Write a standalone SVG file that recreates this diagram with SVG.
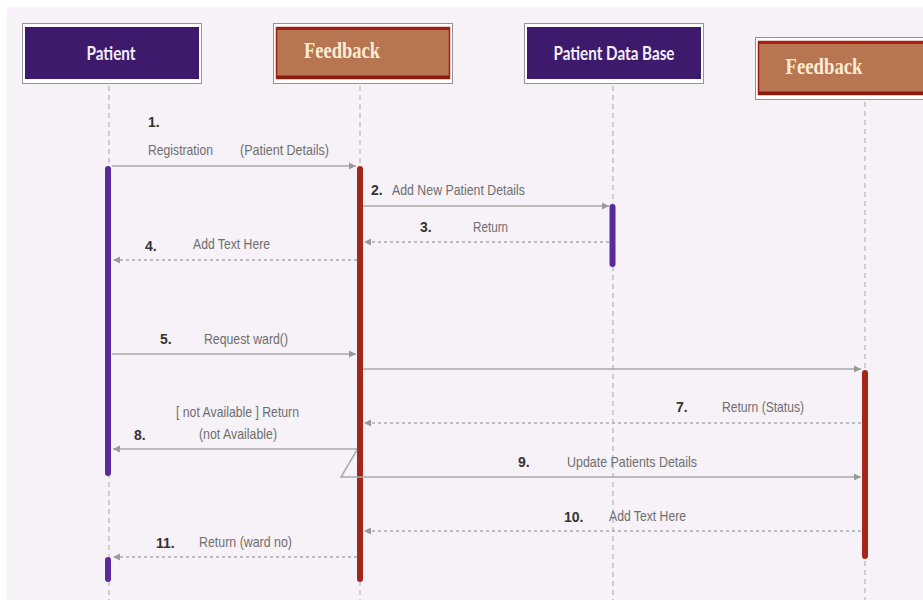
<svg xmlns="http://www.w3.org/2000/svg" width="923" height="600" viewBox="0 0 923 600">
<style>
.lbl{font-family:"Liberation Sans",Arial,sans-serif;font-size:15px;fill:#6e6e6e;}
.num{font-family:"Liberation Sans",Arial,sans-serif;font-size:14px;font-weight:bold;fill:#333;}
.pt{font-family:Lato,"Open Sans",sans-serif;font-size:18px;font-weight:bold;fill:#f4eefa;}
.fb{font-family:"Liberation Serif","Times New Roman",serif;font-size:24px;font-weight:bold;fill:#fbecd6;}
.life{stroke:#a8a8a8;stroke-width:1;stroke-dasharray:5,4;fill:none;}
.msg{stroke:#a9a9a9;stroke-width:1.5;fill:none;}
.ret{stroke:#a9a9a9;stroke-width:1.3;stroke-dasharray:3,3;fill:none;}
.barP{stroke:#5a2a9c;stroke-width:6;stroke-linecap:round;}
.barR{stroke:#a5271a;stroke-width:6;stroke-linecap:round;}
</style>
<defs>
<marker id="ah" markerWidth="8" markerHeight="8" refX="7" refY="4" orient="auto" markerUnits="userSpaceOnUse">
<path d="M0,0.5 L7,4 L0,7.5 Z" fill="#9a9a9a"/>
</marker>
</defs>
<rect width="923" height="600" fill="#ffffff"/>
<rect x="7" y="7" width="916" height="593" fill="#f6f2f8"/>

<g id="lifelines">
<line class="life" x1="109" y1="86" x2="109" y2="600"/>
<line class="life" x1="360" y1="86" x2="360" y2="600"/>
<line class="life" x1="613" y1="86" x2="613" y2="600"/>
<line class="life" x1="865" y1="102" x2="865" y2="600"/>
</g>

<g id="node-patient">
<rect x="22.5" y="23.5" width="179" height="60" fill="#ffffff" stroke="#9a8fa4" stroke-width="1"/>
<rect x="25" y="27" width="174" height="52" fill="#3d1a6c"/>
<text class="pt" x="111" y="60" text-anchor="middle" textLength="49" lengthAdjust="spacingAndGlyphs">Patient</text>
</g>

<g id="node-feedback1">
<rect x="273.5" y="23.5" width="179" height="60" fill="#ffffff" stroke="#9a8f95" stroke-width="1"/>
<rect x="276.5" y="27.5" width="173" height="51" fill="#b87551" stroke="#9e1e10" stroke-width="1.5"/>
<rect x="277" y="27" width="172" height="3" fill="#9e1e10"/>
<rect x="277" y="75.5" width="172" height="3" fill="#8a1a0e"/>
<text class="fb" x="342" y="58" text-anchor="middle" textLength="76" lengthAdjust="spacingAndGlyphs">Feedback</text>
</g>

<g id="node-patientdb">
<rect x="524.5" y="23.5" width="179" height="60" fill="#ffffff" stroke="#9a8fa4" stroke-width="1"/>
<rect x="527" y="27" width="174" height="52" fill="#3d1a6c"/>
<text class="pt" x="614" y="60" text-anchor="middle" textLength="121" lengthAdjust="spacingAndGlyphs">Patient Data Base</text>
</g>

<g id="node-feedback2">
<rect x="755.5" y="37.5" width="175" height="62" fill="#ffffff" stroke="#9a8f95" stroke-width="1"/>
<rect x="758.5" y="41.5" width="170" height="53" fill="#b87551" stroke="#9e1e10" stroke-width="1.5"/>
<rect x="759" y="41" width="170" height="3" fill="#b31e10"/>
<rect x="759" y="91.5" width="170" height="3" fill="#8a1a0e"/>
<text class="fb" x="824" y="74" text-anchor="middle" textLength="77" lengthAdjust="spacingAndGlyphs">Feedback</text>
</g>

<g id="activations">
<line class="barP" x1="108" y1="169" x2="108" y2="473"/>
<line class="barP" x1="108" y1="560" x2="108" y2="579"/>
<line class="barR" x1="360" y1="169" x2="360" y2="579"/>
<line class="barP" x1="612.5" y1="207" x2="612.5" y2="264"/>
<line class="barR" x1="865" y1="373" x2="865" y2="556"/>
</g>

<g id="connectors">
<line class="msg" x1="112" y1="166" x2="356" y2="166" marker-end="url(#ah)"/>
<line class="msg" x1="363" y1="206" x2="609" y2="206" marker-end="url(#ah)"/>
<line class="ret" x1="609" y1="242" x2="364" y2="242" marker-end="url(#ah)"/>
<line class="ret" x1="357" y1="260" x2="113" y2="260" marker-end="url(#ah)"/>
<line class="msg" x1="112" y1="354" x2="356" y2="354" marker-end="url(#ah)"/>
<line class="msg" x1="363" y1="369" x2="861" y2="369" marker-end="url(#ah)"/>
<line class="ret" x1="861" y1="423" x2="364" y2="423" marker-end="url(#ah)"/>
<line class="msg" x1="357" y1="449" x2="113" y2="449" marker-end="url(#ah)"/>
<polyline class="msg" points="357,450 341,477 861,477" marker-end="url(#ah)"/>
<line class="ret" x1="861" y1="531" x2="364" y2="531" marker-end="url(#ah)"/>
<line class="ret" x1="357" y1="557" x2="113" y2="557" marker-end="url(#ah)"/>
</g>

<g id="labels">
<text class="num" x="148" y="127">1.</text>
<text class="lbl" x="148" y="155" textLength="65" lengthAdjust="spacingAndGlyphs">Registration</text>
<text class="lbl" x="240" y="155" textLength="89" lengthAdjust="spacingAndGlyphs">(Patient Details)</text>
<text class="num" x="371" y="195">2.</text>
<text class="lbl" x="392" y="195" textLength="133" lengthAdjust="spacingAndGlyphs">Add New Patient Details</text>
<text class="num" x="420" y="232">3.</text>
<text class="lbl" x="473" y="232" textLength="35" lengthAdjust="spacingAndGlyphs">Return</text>
<text class="num" x="145" y="251">4.</text>
<text class="lbl" x="193" y="249" textLength="77" lengthAdjust="spacingAndGlyphs">Add Text Here</text>
<text class="num" x="160" y="344">5.</text>
<text class="lbl" x="204" y="344" textLength="84" lengthAdjust="spacingAndGlyphs">Request ward()</text>
<text class="num" x="676" y="412">7.</text>
<text class="lbl" x="722" y="412" textLength="82" lengthAdjust="spacingAndGlyphs">Return (Status)</text>
<text class="lbl" x="176" y="417" textLength="123" lengthAdjust="spacingAndGlyphs">[ not Available ] Return</text>
<text class="num" x="134" y="440">8.</text>
<text class="lbl" x="199" y="439" textLength="78" lengthAdjust="spacingAndGlyphs">(not Available)</text>
<text class="num" x="518" y="467">9.</text>
<text class="lbl" x="567" y="467" textLength="130" lengthAdjust="spacingAndGlyphs">Update Patients Details</text>
<text class="num" x="564" y="522">10.</text>
<text class="lbl" x="609" y="521" textLength="77" lengthAdjust="spacingAndGlyphs">Add Text Here</text>
<text class="num" x="156" y="548">11.</text>
<text class="lbl" x="199" y="547" textLength="93" lengthAdjust="spacingAndGlyphs">Return (ward no)</text>
</g>
</svg>
